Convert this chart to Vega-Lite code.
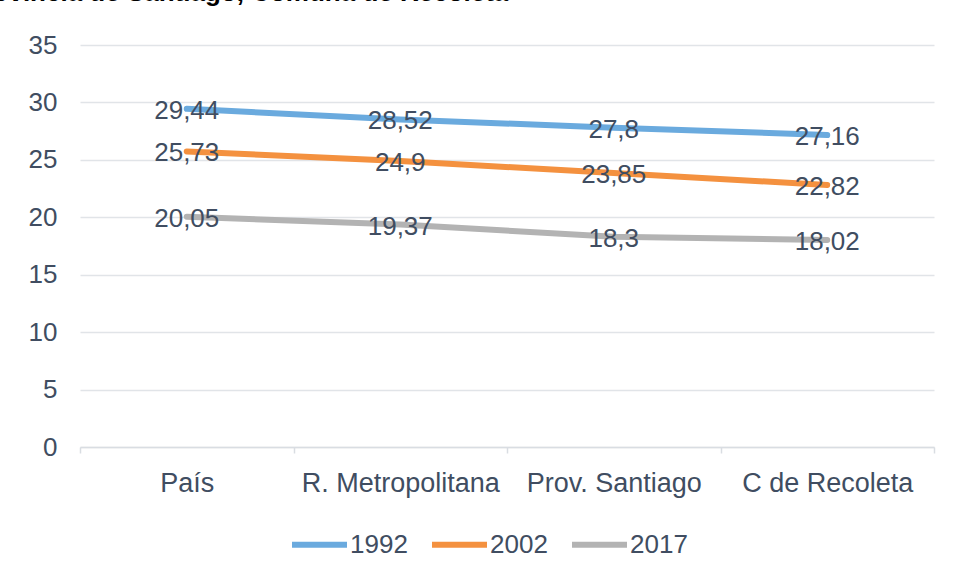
{
  "$schema": "https://vega.github.io/schema/vega-lite/v6.json",
  "width": 854,
  "height": 402,
  "autosize": {"type": "none"},
  "padding": {"left": 80, "top": 45, "right": 21, "bottom": 134},
  "background": "white",
  "title": {
    "text": "Provincia de Santiago, Comuna de Recoleta",
    "anchor": "start",
    "dx": -63,
    "dy": 17,
    "offset": 22,
    "baseline": "alphabetic",
    "font": "Liberation Sans",
    "fontSize": 26,
    "fontWeight": "bold",
    "color": "#000000"
  },
  "data": {
    "values": [
      {"zona": "País", "anio": "1992", "valor": 29.44},
      {"zona": "R. Metropolitana", "anio": "1992", "valor": 28.52},
      {"zona": "Prov. Santiago", "anio": "1992", "valor": 27.8},
      {"zona": "C de Recoleta", "anio": "1992", "valor": 27.16},
      {"zona": "País", "anio": "2002", "valor": 25.73},
      {"zona": "R. Metropolitana", "anio": "2002", "valor": 24.9},
      {"zona": "Prov. Santiago", "anio": "2002", "valor": 23.85},
      {"zona": "C de Recoleta", "anio": "2002", "valor": 22.82},
      {"zona": "País", "anio": "2017", "valor": 20.05},
      {"zona": "R. Metropolitana", "anio": "2017", "valor": 19.37},
      {"zona": "Prov. Santiago", "anio": "2017", "valor": 18.3},
      {"zona": "C de Recoleta", "anio": "2017", "valor": 18.02}
    ]
  },
  "encoding": {
    "x": {
      "field": "zona",
      "type": "nominal",
      "sort": ["País", "R. Metropolitana", "Prov. Santiago", "C de Recoleta"],
      "scale": {"type": "band", "paddingInner": 0, "paddingOuter": 0},
      "axis": {
        "title": null,
        "labelAngle": 0,
        "labelLimit": 400,
        "tickBand": "extent",
        "grid": false,
        "domain": true,
        "domainColor": "#d9dde2",
        "domainWidth": 1.5,
        "ticks": true,
        "tickColor": "#d9dde2",
        "tickWidth": 1.5,
        "tickSize": 6,
        "labelPadding": 17,
        "labelFont": "Liberation Sans",
        "labelFontSize": 27,
        "labelColor": "#404d61"
      }
    },
    "y": {
      "field": "valor",
      "type": "quantitative",
      "scale": {"domain": [0, 35]},
      "axis": {
        "title": null,
        "values": [0, 5, 10, 15, 20, 25, 30, 35],
        "domain": false,
        "ticks": false,
        "grid": true,
        "gridColor": "#e1e4e8",
        "gridWidth": 1.5,
        "labelPadding": 23,
        "labelFont": "Liberation Sans",
        "labelFontSize": 26,
        "labelColor": "#404d61"
      }
    }
  },
  "layer": [
    {
      "mark": {"type": "line", "strokeWidth": 6, "strokeCap": "round"},
      "encoding": {
        "color": {
          "field": "anio",
          "type": "nominal",
          "scale": {"domain": ["1992", "2002", "2017"], "range": ["#6aaade", "#f4913f", "#b3b3b3"]},
          "legend": {
            "orient": "none",
            "legendX": 209,
            "legendY": 469,
            "direction": "horizontal",
            "title": null,
            "symbolType": "stroke",
            "symbolSize": 3025,
            "symbolStrokeWidth": 6,
            "labelFont": "Liberation Sans",
            "labelFontSize": 26,
            "labelColor": "#404d61",
            "labelOffset": 0,
            "columnPadding": 12
          }
        }
      }
    },
    {
      "mark": {"type": "text", "font": "Liberation Sans", "fontSize": 26, "color": "#404d61", "baseline": "middle", "dy": 2},
      "encoding": {
        "text": {"field": "valor", "type": "quantitative", "format": "~g"},
        "detail": {"field": "anio", "type": "nominal"}
      }
    }
  ],
  "config": {
    "locale": {"number": {"decimal": ",", "thousands": ".", "grouping": [3], "currency": ["", "$"]}},
    "view": {"stroke": null}
  }
}
